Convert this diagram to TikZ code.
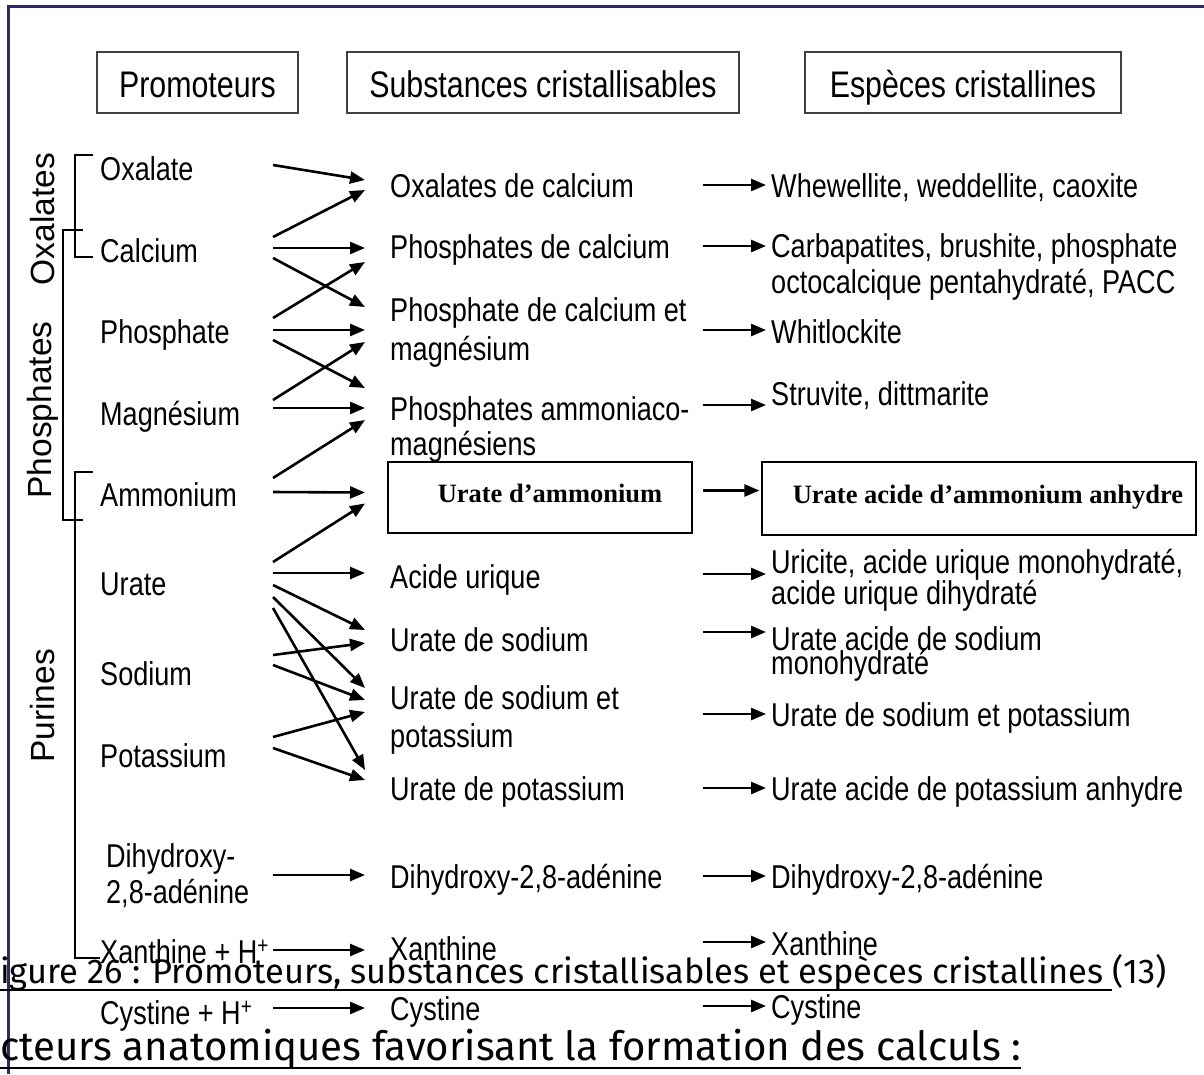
\documentclass[tikz,border=0pt]{standalone}
\usepackage{fontspec}
\setmainfont[FakeStretch=0.82]{Liberation Sans}
\newfontfamily\plainsans{Liberation Sans}
\newfontfamily\capfont{Fira Sans}
\newfontfamily\boxfont{Liberation Serif}
\usetikzlibrary{arrows.meta,calc}
\definecolor{navy}{RGB}{40,44,110}
\begin{document}
\begin{tikzpicture}[x=1pt,y=-1pt,
  txt/.style={anchor=base west,inner sep=0pt,align=left,font=\fontsize{33}{36}\selectfont},
  hdr/.style={draw=black!75,line width=1.5pt,inner sep=0pt,text height=30pt,text depth=0pt,font=\fontsize{37}{40}\selectfont},
  bbox/.style={draw=black,line width=1.3pt,inner sep=0pt,font=\boxfont\bfseries\fontsize{26.5}{30}\selectfont},
  arr/.style={line width=2.6pt,-{Triangle[length=15pt,width=12pt]}},
  brk/.style={line width=2.6pt},
  side/.style={rotate=90,inner sep=0pt,font=\plainsans\fontsize{33.5}{36}\selectfont}]
\useasboundingbox (0,0) rectangle (1204,1074);
\fill[white] (0,0) rectangle (1204,1074);
% frame
\draw[navy,line width=3pt] (8,1074) -- (8,6) -- (1204,6);
% headers
\node[hdr,minimum width=201pt,minimum height=61pt] (hprom) at (197.5,82.5) {Promoteurs};
\node[hdr,minimum width=392pt,minimum height=61pt] (hsubs) at (543,82.5) {Substances cristallisables};
\node[hdr,minimum width=316pt,minimum height=61pt] (hesp) at (963,82.5) {Espèces cristallines};
% side labels and brackets
\node[side] (lox) at (43,219) {Oxalates};
\node[side] (lph) at (43,410) {Phosphates};
\node[side] (lpu) at (43,706) {Purines};
\draw[brk] (93,155) -- (75,155) -- (75,257) -- (93,257);
\draw[brk] (83,230) -- (63,230) -- (63,520) -- (83,520);
\draw[brk] (93,472) -- (75,472) -- (75,958) -- (100,958);
% left column
\node[txt] (oxa) at (100,180) {Oxalate};
\node[txt] (cal) at (100,262) {Calcium};
\node[txt] (pho) at (100,343) {Phosphate};
\node[txt] (mag) at (100,425) {Magnésium};
\node[txt] (amm) at (100,506) {Ammonium};
\node[txt] (ura) at (100,595) {Urate};
\node[txt] (sod) at (100,685) {Sodium};
\node[txt] (pot) at (100,767) {Potassium};
\node[txt] (dih) at (106,903) {Dihydroxy-\\2,8-adénine};
\node[txt] (xan) at (100,963) {Xanthine + H\textsuperscript{+}};
\node[txt] (cys) at (100,1024) {Cystine + H\textsuperscript{+}};
% middle column
\node[txt] (oxcal) at (390,197) {Oxalates de calcium};
\node[txt] (phcal) at (390,258) {Phosphates de calcium};
\node[txt] (phcamg) at (390,360) {Phosphate de calcium et\\[3pt]magnésium};
\node[txt] (pam) at (390,455) {Phosphates ammoniaco-\\[-1pt]magnésiens};
\node[bbox,minimum width=304pt,minimum height=71pt] (uam) at (540,497.5) {\raisebox{8pt}{\hspace*{20pt}Urate d’ammonium}};
\node[txt] (acu) at (390,588) {Acide urique};
\node[txt] (una) at (390,651) {Urate de sodium};
\node[txt] (unak) at (390,747) {Urate de sodium et\\[2pt]potassium};
\node[txt] (uk) at (390,800) {Urate de potassium};
\node[txt] (mdih) at (390,888) {Dihydroxy-2,8-adénine};
\node[txt] (mxan) at (390,960) {Xanthine};
\node[txt] (mcys) at (390,1020) {Cystine};
% right column
\node[txt] (whe) at (771,197) {Whewellite, weddellite, caoxite};
\node[txt] (carb) at (771,293) {Carbapatites, brushite, phosphate\\octocalcique pentahydraté, PACC};
\node[txt] (whi) at (771,343) {Whitlockite};
\node[txt] (stru) at (771,405) {Struvite, dittmarite};
\node[bbox,minimum width=434pt,minimum height=73pt] (uaa) at (979,498.5) {\raisebox{8pt}{\hspace*{18pt}Urate acide d’ammonium anhydre}};
\node[txt] (uric) at (771,604) {Uricite, acide urique monohydraté,\\[-5pt]acide urique dihydraté};
\node[txt] (uas) at (771,674) {Urate acide de sodium\\[-12pt]monohydraté};
\node[txt] (unk) at (771,726) {Urate de sodium et potassium};
\node[txt] (uak) at (771,800) {Urate acide de potassium anhydre};
\node[txt] (rdih) at (771,888) {Dihydroxy-2,8-adénine};
\node[txt] (rxan) at (771,955) {Xanthine};
\node[txt] (rcys) at (771,1018) {Cystine};
% reference x positions
\coordinate (xL) at (273,0);
\coordinate (xM) at (365,0);
\coordinate (xR) at (703,0);
% left arrows
\draw[arr] ($(oxa.base -| xL)+(0,-15)$) -- ($(oxcal.base -| xM)+(0,-17)$);
\draw[arr] ($(cal.base -| xL)+(0,-25)$) -- ($(oxcal.base -| xM)+(0,-7)$);
\draw[arr] ($(cal.base -| xL)+(0,-14)$) -- ($(phcal.base -| xM)+(0,-10)$);
\draw[arr] ($(cal.base -| xL)+(0,-4)$) -- ($(phcamg.base -| xM)+(0,-53)$);
\draw[arr] ($(pho.base -| xL)+(0,-25)$) -- ($(phcal.base -| xM)+(0,4)$);
\draw[arr] ($(pho.base -| xL)+(0,-13)$) -- ($(phcamg.base -| xM)+(0,-30)$);
\draw[arr] ($(pho.base -| xL)+(0,-3)$) -- ($(pam.base -| xM)+(0,-67)$);
\draw[arr] ($(mag.base -| xL)+(0,-25)$) -- ($(phcamg.base -| xM)+(0,-18)$);
\draw[arr] ($(mag.base -| xL)+(0,-17)$) -- ($(pam.base -| xM)+(0,-47)$);
\draw[arr] ($(amm.base -| xL)+(0,-28)$) -- ($(pam.base -| xM)+(0,-35)$);
\draw[arr] ($(amm.base -| xL)+(0,-14)$) -- ($(uam.center -| xM)+(0,-5)$);
\draw[arr] ($(ura.base -| xL)+(0,-33)$) -- ($(uam.center -| xM)+(0,6)$);
\draw[arr] ($(ura.base -| xL)+(0,-22)$) -- ($(acu.base -| xM)+(0,-15)$);
\draw[arr] ($(ura.base -| xL)+(0,-10)$) -- ($(una.base -| xM)+(0,-21)$);
\draw[arr] ($(ura.base -| xL)+(0,2)$) -- ($(unak.base -| xM)+(0,-59)$);
\draw[arr] ($(ura.base -| xL)+(0,13)$) -- ($(uk.base -| xM)+(0,-30)$);
\draw[arr] ($(sod.base -| xL)+(0,-30)$) -- ($(una.base -| xM)+(0,-8)$);
\draw[arr] ($(sod.base -| xL)+(0,-20)$) -- ($(unak.base -| xM)+(0,-47)$);
\draw[arr] ($(pot.base -| xL)+(0,-30)$) -- ($(unak.base -| xM)+(0,-35)$);
\draw[arr] ($(pot.base -| xL)+(0,-19)$) -- ($(uk.base -| xM)+(0,-20)$);
\draw[arr] ($(dih.base -| xL)+(0,-28)$) -- ($(mdih.base -| xM)+(0,-13)$);
\draw[arr] ($(xan.base east)+(4,-13)$) -- ($(mxan.base -| xM)+(0,-10)$);
\draw[arr] ($(cys.base -| xL)+(0,-16)$) -- ($(mcys.base -| xM)+(0,-12)$);
% right arrows
\draw[arr] ($(oxcal.base -| xR)+(0,-12)$) -- ($(whe.base west)+(-5,-12)$);
\draw[arr] ($(phcal.base -| xR)+(0,-12)$) -- ($(carb.base west)+(-5,-47)$);
\draw[arr] ($(phcamg.base -| xR)+(0,-30)$) -- ($(whi.base west)+(-5,-13)$);
\draw[arr] ($(pam.base -| xR)+(0,-50)$) -- ($(stru.base west)+(-5,0)$);
\draw[arr] ($(uam.center -| xR)+(0,-7)$) -- ($(uaa.west)+(-2,-8)$);
\draw[arr] ($(acu.base -| xR)+(0,-14)$) -- ($(uric.base west)+(-5,-30)$);
\draw[arr] ($(una.base -| xR)+(0,-19)$) -- ($(uas.base west)+(-5,-42)$);
\draw[arr] ($(unak.base -| xR)+(0,-33)$) -- ($(unk.base west)+(-5,-12)$);
\draw[arr] ($(uk.base -| xR)+(0,-12)$) -- ($(uak.base west)+(-5,-12)$);
\draw[arr] ($(mdih.base -| xR)+(0,-12)$) -- ($(rdih.base west)+(-5,-12)$);
\draw[arr] ($(mxan.base -| xR)+(0,-18)$) -- ($(rxan.base west)+(-5,-13)$);
\draw[arr] ($(mcys.base -| xR)+(0,-14)$) -- ($(rcys.base west)+(-5,-12)$);
% caption lines
\node[anchor=base west,inner sep=0pt,font=\capfont\fontsize{34.4}{37}\selectfont] (capA) at (0,983) {igure 26 : Promoteurs, substances cristallisables et espèces cristallines};
\node[anchor=base west,inner sep=0pt,font=\capfont\fontsize{34.4}{37}\selectfont] (capB) at ($(capA.base east)+(9,0)$) {(13)};
\draw[line width=2pt] ($(capA.base west)+(0,7)$) -- ($(capA.base east)+(9,7)$);
\node[anchor=base west,inner sep=0pt,font=\capfont\fontsize{40.2}{43}\selectfont] (fac) at (0,1060) {cteurs anatomiques favorisant la formation des calculs :};
\draw[line width=2.4pt] ($(fac.base west)+(0,8)$) -- ($(fac.base east)+(0,8)$);
\end{tikzpicture}
\end{document}
